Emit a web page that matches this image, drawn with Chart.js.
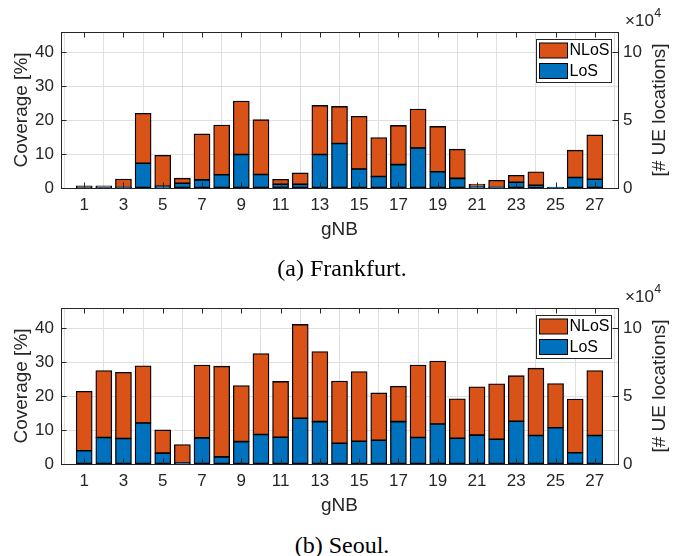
<!DOCTYPE html>
<html>
<head>
<meta charset="utf-8">
<script src="https://cdn.jsdelivr.net/npm/chart.js@4.4.1/dist/chart.umd.min.js"></script>
<style>
  html, body { margin: 0; padding: 0; background: #fff; }
  #wrap { position: relative; width: 681px; height: 556px; overflow: hidden; }
  canvas { position: absolute; left: 0; }
  .cap { position: absolute; left: 0; width: 684px; text-align: center;
         font-family: "Liberation Serif", "DejaVu Serif", serif; font-size: 24px;
         line-height: 28px; color: #000; }
</style>
</head>
<body>
<div id="wrap">
  <canvas id="c1" width="681" height="245" style="top:0px"></canvas>
  <canvas id="c2" width="681" height="245" style="top:276px"></canvas>
  <div class="cap" style="top:254px">(a) Frankfurt.</div>
  <div class="cap" style="top:531px">(b) Seoul.</div>
</div>
<script>
// ---- data ----
const gnb = [1,2,3,4,5,6,7,8,9,10,11,12,13,14,15,16,17,18,19,20,21,22,23,24,25,26,27];
const xTickLabels = [1,3,5,7,9,11,13,15,17,19,21,23,25,27];
const frankfurtLoS  = [0.3,0.2,0.1,7.3,0.5,1.4,2.4,3.9,9.9,4.0,1.1,1.1,9.9,13.1,5.6,3.4,6.9,11.8,4.8,2.85,0.5,0.1,1.7,0.8,0.1,3.1,2.6];
const frankfurtNLoS = [0.3,0.4,2.5,14.7,9.1,1.45,13.5,14.6,15.7,16.1,1.4,3.3,14.4,10.9,15.5,11.45,11.5,11.4,13.3,8.55,0.6,2.1,2.0,3.9,0.1,8.0,13.0];
const seoulLoS  = [3.9,7.8,7.5,12.1,3.2,0.3,7.7,2.1,6.6,8.7,7.9,13.5,12.5,6.1,6.7,7.0,12.5,7.8,11.8,7.6,8.5,7.3,12.6,8.4,10.7,3.3,8.4];
const seoulNLoS = [17.5,19.7,19.5,16.8,6.8,5.4,21.4,26.7,16.5,23.8,16.4,27.6,20.6,18.3,20.5,13.9,10.4,21.3,18.5,11.6,14.2,16.3,13.4,19.8,13.0,15.8,19.1];
const leftAxisMax = 46;      // Coverage [%]
const rightAxisMax = 11.5;   // # UE locations (x10^4)
const xLabel = 'gNB';
const yLabel = 'Coverage [%]';
const y2Label = '[# UE locations]';
const seriesNames = ['LoS', 'NLoS'];

// ---- style ----
const FONT = '"Liberation Sans", Arial, Helvetica, sans-serif';
const AX = '#262626';
const GRID = '#dfdfdf';
const COL_LOS = '#0072BD';
const COL_NLOS = '#D95319';

const matlabPlugin = {
  id: 'matlabAxes',
  afterDatasetsDraw(chart) {
    const ctx = chart.ctx, a = chart.chartArea;
    const sx = chart.scales.x, sy = chart.scales.y, sy2 = chart.scales.y2;
    const TL = 5.5;
    ctx.save();
    ctx.strokeStyle = AX;
    ctx.lineWidth = 1;
    ctx.beginPath();
    sx.ticks.forEach(t => {
      const px = Math.round(sx.getPixelForValue(t.value)) + 0.5;
      ctx.moveTo(px, a.bottom); ctx.lineTo(px, a.bottom - TL);
      ctx.moveTo(px, a.top); ctx.lineTo(px, a.top + TL);
    });
    sy.ticks.forEach(t => {
      const py = Math.round(sy.getPixelForValue(t.value)) + 0.5;
      ctx.moveTo(a.left, py); ctx.lineTo(a.left + TL, py);
    });
    sy2.ticks.forEach(t => {
      const py = Math.round(sy2.getPixelForValue(t.value)) + 0.5;
      ctx.moveTo(a.right, py); ctx.lineTo(a.right - TL, py);
    });
    ctx.stroke();
    ctx.strokeRect(Math.round(a.left) + 0.5, Math.round(a.top) + 0.5,
                   Math.round(a.right - a.left), Math.round(a.bottom - a.top));
    ctx.restore();
  },
  afterDraw(chart) {
    const ctx = chart.ctx, a = chart.chartArea;
    ctx.save();
    // legend (inside, top-right)
    const bw = 75, bh = 43;
    const bx = Math.round(a.right - 7 - bw) + 0.5, by = Math.round(a.top + 7) + 0.5;
    ctx.fillStyle = '#fff';
    ctx.fillRect(bx, by, bw, bh);
    ctx.strokeStyle = AX; ctx.lineWidth = 1;
    ctx.strokeRect(bx, by, bw, bh);
    const items = chart.data.datasets.slice().reverse();
    ctx.font = '16px ' + FONT;
    ctx.textBaseline = 'middle';
    ctx.textAlign = 'left';
    items.forEach((ds, i) => {
      const sy = by + 3.5 + i * 20.5;
      ctx.fillStyle = ds.backgroundColor;
      ctx.fillRect(bx + 3, sy, 28, 15);
      ctx.strokeStyle = '#000';
      ctx.strokeRect(bx + 3, sy, 28, 15);
      ctx.fillStyle = '#000';
      ctx.fillText(ds.label, bx + 33, sy + 8);
    });
    // exponent label
    ctx.fillStyle = AX;
    ctx.font = '17px ' + FONT;
    ctx.textBaseline = 'middle';
    ctx.fillText('\u00d710', a.right + 7, a.top - 11);
    const w = ctx.measureText('\u00d710').width;
    ctx.font = '12.5px ' + FONT;
    ctx.fillText('4', a.right + 7 + w + 0.5, a.top - 18);
    // right axis title (reads bottom to top)
    ctx.font = '19px ' + FONT;
    ctx.translate(a.right + 42, (a.top + a.bottom) / 2);
    ctx.rotate(-Math.PI / 2);
    ctx.textAlign = 'center';
    ctx.fillText(y2Label, 0, 0);
    ctx.restore();
  }
};

function makeChart(id, los, nlos) {
  const pts = arr => arr.map((v, i) => ({ x: gnb[i], y: v }));
  const common = { borderColor: '#000', borderWidth: 1.3, borderSkipped: false,
                   barPercentage: 0.8, categoryPercentage: 1.0, inflateAmount: 0.5 };
  return new Chart(document.getElementById(id), {
    type: 'bar',
    data: {
      datasets: [
        Object.assign({ label: seriesNames[0], data: pts(los), backgroundColor: COL_LOS }, common),
        Object.assign({ label: seriesNames[1], data: pts(nlos), backgroundColor: COL_NLOS }, common)
      ]
    },
    options: {
      responsive: false,
      animation: false,
      events: [],
      layout: { padding: { top: 32, left: 0, right: 0, bottom: 0 } },
      plugins: { legend: { display: false }, tooltip: { enabled: false } },
      scales: {
        x: {
          type: 'linear', stacked: true, min: -0.18, max: 28.18, offset: false,
          afterBuildTicks: s => { s.ticks = xTickLabels.map(v => ({ value: v })); },
          afterFit: s => { s.height = 57; },
          ticks: { font: { family: FONT, size: 17 }, color: AX, padding: 7, maxRotation: 0, autoSkip: false,
                   callback: v => String(v) },
          grid: { color: GRID, lineWidth: 1, drawTicks: false },
          border: { display: false },
          title: { display: true, text: xLabel, font: { family: FONT, size: 19 }, color: AX,
                   padding: { top: 0, bottom: 4 } }
        },
        y: {
          type: 'linear', position: 'left', stacked: true, min: 0, max: leftAxisMax,
          afterFit: s => { s.width = 61; },
          ticks: { stepSize: 10, includeBounds: false, font: { family: FONT, size: 17 }, color: AX, padding: 7 },
          grid: { color: GRID, lineWidth: 1, drawTicks: false },
          border: { display: false },
          title: { display: true, text: yLabel, font: { family: FONT, size: 19 }, color: AX,
                   padding: { top: 10, bottom: 0 } }
        },
        y2: {
          type: 'linear', position: 'right', min: 0, max: rightAxisMax,
          afterFit: s => { s.width = 63; },
          ticks: { stepSize: 5, includeBounds: false, font: { family: FONT, size: 17 }, color: AX, padding: 5 },
          grid: { display: false, drawTicks: false },
          border: { display: false }
        }
      }
    },
    plugins: [matlabPlugin]
  });
}

makeChart('c1', frankfurtLoS, frankfurtNLoS);
makeChart('c2', seoulLoS, seoulNLoS);
</script>
</body>
</html>
